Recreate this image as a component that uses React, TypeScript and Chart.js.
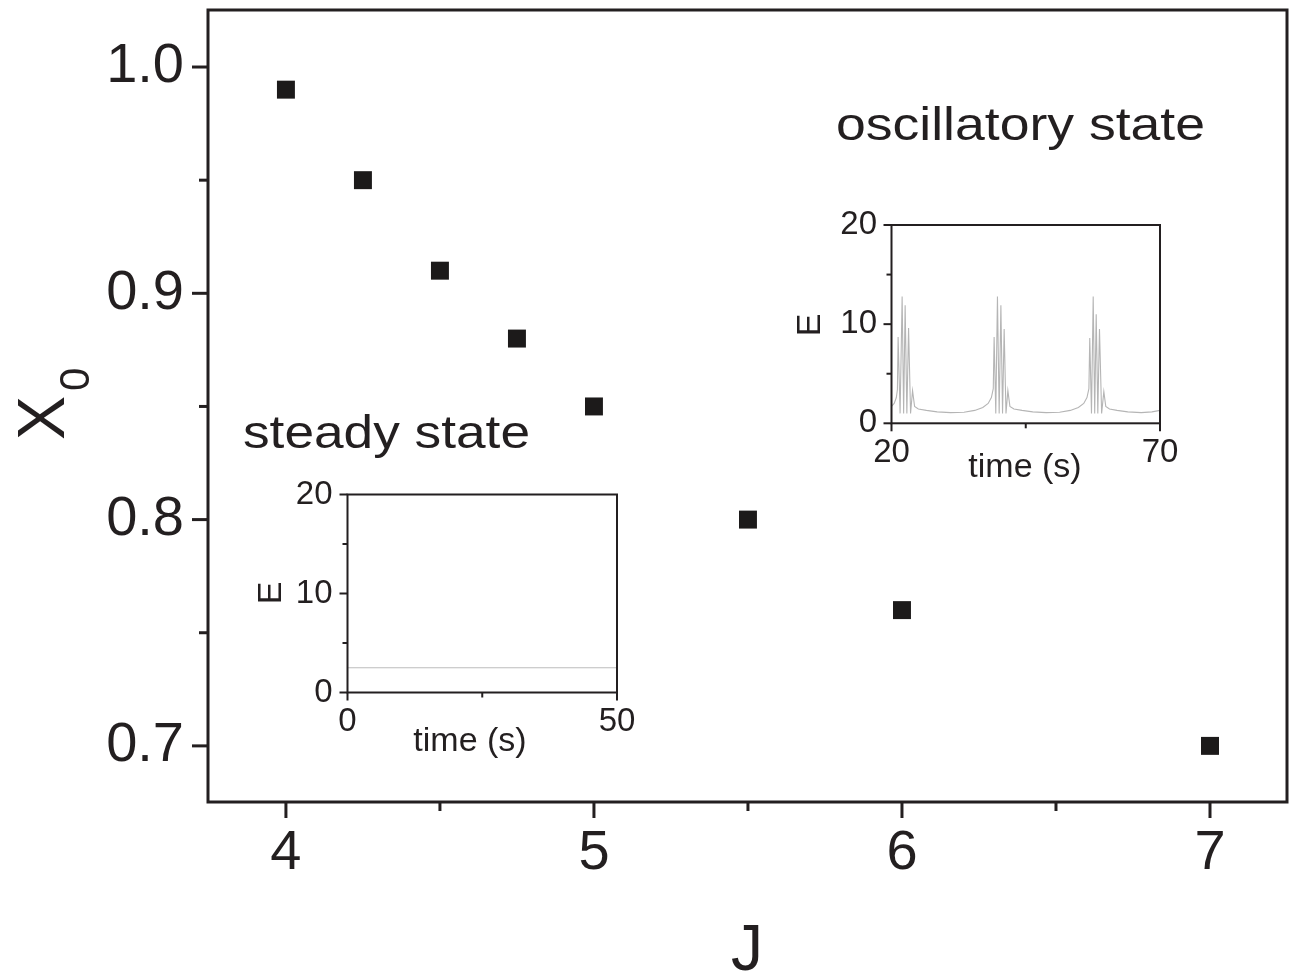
import React, { useEffect, useRef } from 'react';
import { Chart, registerables } from 'chart.js';

Chart.register(...registerables);

const FONT = '"Liberation Sans", Arial, Helvetica, sans-serif';
const INK = '#231f20';

// ---- main chart data ----
const jValues = [4, 4.25, 4.5, 4.75, 5, 5.5, 6, 7];
const x0Values = [0.99, 0.95, 0.91, 0.88, 0.85, 0.8, 0.76, 0.7];
const mainXMajor = [4, 5, 6, 7];
const mainXMinor = [4.5, 5.5, 6.5];
const mainYMajor = [0.7, 0.8, 0.9, 1.0];
const mainYMinor = [0.75, 0.85, 0.95];

// ---- steady-state inset ----
const steadyTime = [0, 50];
const steadyE = [2.5, 2.5];
const steadyXMajor = [0, 50];
const steadyXMinor = [25];

// ---- oscillatory inset ----
const oscTime = [
  20.0, 20.5, 20.9, 21.1, 21.23, 21.6, 21.98, 22.26, 22.54, 22.86, 23.18, 23.55, 23.92,
  24.3, 25.0, 26.5, 28.5, 31.0, 33.5, 35.5, 37.0, 38.0, 38.6, 38.95,
  39.11, 39.42, 39.73, 40.05, 40.37, 40.68, 40.98, 41.32, 41.67,
  42.05, 42.8, 44.3, 46.3, 48.8, 51.3, 53.3, 54.8, 55.8, 56.4, 56.76,
  56.92, 57.24, 57.56, 57.84, 58.12, 58.42, 58.73, 59.13, 59.54,
  59.9, 60.6, 62.0, 64.0, 66.5, 68.5, 70.0,
];
const oscE = [
  1.7, 2.0, 2.6, 3.4, 8.7, 1.0, 12.8, 1.0, 11.9, 1.0, 9.6, 1.0, 3.3,
  1.7, 1.45, 1.3, 1.15, 1.08, 1.12, 1.3, 1.6, 2.0, 2.6, 3.5,
  8.7, 1.0, 12.8, 1.0, 11.9, 1.0, 9.5, 1.0, 3.3,
  1.7, 1.45, 1.3, 1.15, 1.08, 1.12, 1.3, 1.6, 2.0, 2.6, 3.5,
  8.6, 1.0, 12.8, 1.0, 11.0, 1.0, 9.5, 1.0, 3.2,
  1.7, 1.45, 1.3, 1.15, 1.08, 1.15, 1.3,
];
const oscXMajor = [20, 70];
const oscXMinor = [45];

const insetYMajor = [0, 10, 20];
const insetYMinor = [5, 15];

const W = 1293;
const H = 974;

type FrameCfg = {
  id: string;
  lineWidth: number;
  majorLen: number;
  minorLen: number;
  xMajor: number[];
  xMinor: number[];
  yMajor: number[];
  yMinor: number[];
  extra?: (ctx: CanvasRenderingContext2D) => void;
};

function framePlugin(cfg: FrameCfg) {
  return {
    id: cfg.id,
    afterDraw(chart: any) {
      const { ctx, chartArea: a, scales } = chart;
      ctx.save();
      ctx.strokeStyle = INK;
      ctx.lineWidth = cfg.lineWidth;
      ctx.lineCap = 'butt';
      ctx.strokeRect(a.left, a.top, a.right - a.left, a.bottom - a.top);
      const xt = (v: number, len: number) => {
        const p = scales.x.getPixelForValue(v);
        ctx.beginPath();
        ctx.moveTo(p, a.bottom);
        ctx.lineTo(p, a.bottom + len);
        ctx.stroke();
      };
      const yt = (v: number, len: number) => {
        const p = scales.y.getPixelForValue(v);
        ctx.beginPath();
        ctx.moveTo(a.left, p);
        ctx.lineTo(a.left - len, p);
        ctx.stroke();
      };
      cfg.xMajor.forEach((v) => xt(v, cfg.majorLen));
      cfg.xMinor.forEach((v) => xt(v, cfg.minorLen));
      cfg.yMajor.forEach((v) => yt(v, cfg.majorLen));
      cfg.yMinor.forEach((v) => yt(v, cfg.minorLen));
      ctx.fillStyle = INK;
      if (cfg.extra) cfg.extra(ctx);
      ctx.restore();
    },
  };
}

function fitText(ctx: CanvasRenderingContext2D, text: string, x: number, y: number, width: number, size: number) {
  ctx.save();
  ctx.font = `${size}px ${FONT}`;
  ctx.textAlign = 'left';
  ctx.textBaseline = 'alphabetic';
  const m = ctx.measureText(text).width;
  ctx.translate(x, y);
  ctx.scale(width / m, 1);
  ctx.fillText(text, 0, 0);
  ctx.restore();
}

function rotText(ctx: CanvasRenderingContext2D, text: string, x: number, y: number, size: number) {
  ctx.save();
  ctx.font = `${size}px ${FONT}`;
  ctx.textAlign = 'center';
  ctx.textBaseline = 'alphabetic';
  ctx.translate(x, y);
  ctx.rotate(-Math.PI / 2);
  ctx.fillText(text, 0, 0);
  ctx.restore();
}

function plainText(ctx: CanvasRenderingContext2D, text: string, x: number, y: number, size: number) {
  ctx.save();
  ctx.font = `${size}px ${FONT}`;
  ctx.textAlign = 'center';
  ctx.textBaseline = 'alphabetic';
  ctx.fillText(text, x, y);
  ctx.restore();
}

function makeScales(o: {
  xmin: number; xmax: number; ymin: number; ymax: number;
  xTicks: number[]; yTicks: number[];
  yWidth: number; xHeight: number;
  fontSize: number; tickLen: number; xPad: number; yPad: number;
  fmtY: (v: number) => string;
}) {
  const tickFont = { family: FONT, size: o.fontSize, lineHeight: 1 };
  return {
    x: {
      type: 'linear',
      min: o.xmin,
      max: o.xmax,
      afterBuildTicks: (s: any) => { s.ticks = o.xTicks.map((v) => ({ value: v })); },
      afterFit: (s: any) => { s.height = o.xHeight; s.paddingLeft = 0; s.paddingRight = 0; s.paddingTop = 0; s.paddingBottom = 0; },
      grid: { display: true, drawOnChartArea: false, drawTicks: true, tickLength: o.tickLen, color: 'rgba(0,0,0,0)' },
      border: { display: false },
      ticks: { font: tickFont, color: INK, padding: o.xPad, maxRotation: 0, minRotation: 0, autoSkip: false, callback: (v: any) => String(v) },
    },
    y: {
      type: 'linear',
      min: o.ymin,
      max: o.ymax,
      afterBuildTicks: (s: any) => { s.ticks = o.yTicks.map((v) => ({ value: v })); },
      afterFit: (s: any) => { s.width = o.yWidth; s.paddingLeft = 0; s.paddingRight = 0; s.paddingTop = 0; s.paddingBottom = 0; },
      grid: { display: true, drawOnChartArea: false, drawTicks: true, tickLength: o.tickLen, color: 'rgba(0,0,0,0)' },
      border: { display: false },
      ticks: { font: tickFont, color: INK, padding: o.yPad, autoSkip: false, callback: (v: any) => o.fmtY(Number(v)) },
    },
  };
}

export default function App() {
  const mainRef = useRef<HTMLCanvasElement>(null);
  const steadyRef = useRef<HTMLCanvasElement>(null);
  const oscRef = useRef<HTMLCanvasElement>(null);

  useEffect(() => {
    const charts: Chart[] = [];

    // main chart
    charts.push(new Chart(mainRef.current as HTMLCanvasElement, {
      type: 'scatter',
      data: {
        datasets: [{
          data: jValues.map((x, i) => ({ x, y: x0Values[i] })),
          pointStyle: 'rect',
          pointRadius: 12.7,
          pointHoverRadius: 12.7,
          backgroundColor: '#1c1a1a',
          borderWidth: 0,
          showLine: false,
        }],
      },
      options: {
        animation: false,
        responsive: false,
        events: [],
        layout: { autoPadding: false, padding: { top: 10, right: 6, left: 0, bottom: 0 } },
        plugins: { legend: { display: false }, tooltip: { enabled: false } },
        scales: makeScales({
          xmin: 3.747, xmax: 7.25, ymin: 0.6752, ymax: 1.0252,
          xTicks: mainXMajor, yTicks: mainYMajor,
          yWidth: 208, xHeight: 172,
          fontSize: 56, tickLen: 16, xPad: 8, yPad: 8,
          fmtY: (v) => v.toFixed(1),
        }) as any,
      },
      plugins: [framePlugin({
        id: 'mainFrame', lineWidth: 3, majorLen: 16, minorLen: 9,
        xMajor: mainXMajor, xMinor: mainXMinor, yMajor: mainYMajor, yMinor: mainYMinor,
        extra: (ctx) => {
          fitText(ctx, 'oscillatory state', 836, 140, 369, 47);
          fitText(ctx, 'steady state', 243, 448, 287, 47);
          plainText(ctx, 'J', 747, 970, 64);
          ctx.save();
          ctx.translate(64, 440);
          ctx.rotate(-Math.PI / 2);
          ctx.textAlign = 'left';
          ctx.textBaseline = 'alphabetic';
          ctx.font = `66px ${FONT}`;
          ctx.fillText('X', 0, 0);
          ctx.font = `42px ${FONT}`;
          ctx.fillText('0', 49, 25);
          ctx.restore();
        },
      }) as any],
    } as any));

    // steady inset
    charts.push(new Chart(steadyRef.current as HTMLCanvasElement, {
      type: 'line',
      data: {
        datasets: [{
          data: steadyTime.map((x, i) => ({ x, y: steadyE[i] })),
          borderColor: '#bdbdbd',
          borderWidth: 1.2,
          pointRadius: 0,
          tension: 0,
          fill: false,
        }],
      },
      options: {
        animation: false,
        responsive: false,
        events: [],
        layout: { autoPadding: false, padding: { left: 347.5 - 60, right: W - 617, top: 494.5, bottom: H - 692.5 - 60 } },
        plugins: { legend: { display: false }, tooltip: { enabled: false } },
        scales: makeScales({
          xmin: 0, xmax: 50, ymin: 0, ymax: 20,
          xTicks: steadyXMajor, yTicks: insetYMajor,
          yWidth: 60, xHeight: 60,
          fontSize: 33, tickLen: 8, xPad: 5, yPad: 7,
          fmtY: (v) => String(v),
        }) as any,
      },
      plugins: [framePlugin({
        id: 'steadyFrame', lineWidth: 2, majorLen: 8, minorLen: 5,
        xMajor: steadyXMajor, xMinor: steadyXMinor, yMajor: insetYMajor, yMinor: insetYMinor,
        extra: (ctx) => {
          rotText(ctx, 'E', 281, 593, 34);
          plainText(ctx, 'time (s)', 470, 751, 34);
        },
      }) as any],
    } as any));

    // oscillatory inset
    charts.push(new Chart(oscRef.current as HTMLCanvasElement, {
      type: 'line',
      data: {
        datasets: [{
          data: oscTime.map((x, i) => ({ x, y: oscE[i] })),
          borderColor: '#b5b5b5',
          borderWidth: 1.1,
          pointRadius: 0,
          tension: 0,
          fill: false,
        }],
      },
      options: {
        animation: false,
        responsive: false,
        events: [],
        layout: { autoPadding: false, padding: { left: 891.5 - 60, right: W - 1160, top: 225, bottom: H - 423.3 - 60 } },
        plugins: { legend: { display: false }, tooltip: { enabled: false } },
        scales: makeScales({
          xmin: 20, xmax: 70, ymin: 0, ymax: 20,
          xTicks: oscXMajor, yTicks: insetYMajor,
          yWidth: 60, xHeight: 60,
          fontSize: 33, tickLen: 8, xPad: 5, yPad: 6.5,
          fmtY: (v) => String(v),
        }) as any,
      },
      plugins: [framePlugin({
        id: 'oscFrame', lineWidth: 2, majorLen: 8, minorLen: 5,
        xMajor: oscXMajor, xMinor: oscXMinor, yMajor: insetYMajor, yMinor: insetYMinor,
        extra: (ctx) => {
          rotText(ctx, 'E', 820, 325, 34);
          plainText(ctx, 'time (s)', 1025, 477, 34);
        },
      }) as any],
    } as any));

    return () => { charts.forEach((c) => c.destroy()); };
  }, []);

  const canvasStyle: React.CSSProperties = { position: 'absolute', left: 0, top: 0, width: W, height: H };
  return (
    <div style={{ position: 'absolute', left: 0, top: 0, width: W, height: H, background: '#ffffff' }}>
      <canvas ref={mainRef} width={W} height={H} style={canvasStyle} />
      <canvas ref={steadyRef} width={W} height={H} style={canvasStyle} />
      <canvas ref={oscRef} width={W} height={H} style={canvasStyle} />
    </div>
  );
}
